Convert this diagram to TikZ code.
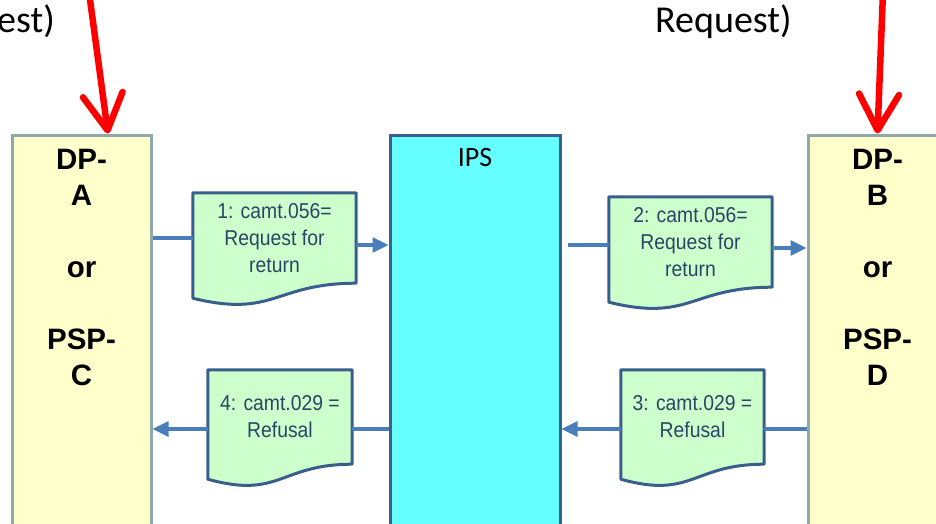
\documentclass[tikz,border=0pt]{standalone}
\usepackage{fontspec}
\setmainfont{Liberation Sans}
\newfontfamily\notefont{Carlito}
\newfontfamily\msgfont[FakeStretch=0.9]{Liberation Sans}
\usetikzlibrary{arrows.meta,positioning,calc,backgrounds}
\definecolor{partyfill}{HTML}{FFFFCC}
\definecolor{partyline}{HTML}{8FA8A8}
\definecolor{ipsfill}{HTML}{66FFFF}
\definecolor{ipsline}{HTML}{3C5F8F}
\definecolor{msgfill}{HTML}{CCFFCC}
\definecolor{msgline}{HTML}{3A5E8C}
\definecolor{msgtext}{HTML}{2B4466}
\definecolor{flowline}{HTML}{4A7EBB}
\tikzset{
  party/.style={draw=partyline, fill=partyfill, line width=3pt,
    minimum width=139pt, minimum height=410pt},
  partytext/.style={align=center, inner sep=0pt,
    font=\bfseries\fontsize{29.5}{36}\selectfont},
  ips/.style={draw=ipsline, fill=ipsfill, line width=3pt,
    minimum width=170pt, minimum height=410pt},
  msg/.style 2 args={align=center, inner sep=0pt, text=msgtext,
    minimum width=#1, minimum height=#2,
    font=\msgfont\fontsize{21.5}{27}\selectfont},
  msgdoc/.style={draw=msgline, fill=msgfill, line width=3pt, line join=round},
  flow/.style={draw=flowline, line width=3.2pt},
  flowarrow/.style={flow, -{Triangle[length=16pt,width=15pt]}},
  hint/.style={red, line width=6.5pt, -{Straight Barb[length=36pt,width=40pt,round]}},
  note/.style={inner sep=0pt, font=\notefont\fontsize{38}{44}\selectfont}
}
\begin{document}
\begin{tikzpicture}[x=1pt,y=-1pt]
\useasboundingbox (0,0) rectangle (936,523);
\clip (0,0) rectangle (936,523);
% parties and switch
\node[party] (lbox) at (81.5,340) {};
\node[party] (rbox) at (877.5,340) {};
\node[ips] (ips) at (475,340) {};
\node[partytext, below=15pt of lbox.north] (ltext) {DP-\\A\\[36pt]or\\[36pt]PSP-\\C};
\node[partytext, below=15pt of rbox.north] (rtext) {DP-\\B\\[36pt]or\\[36pt]PSP-\\D};
\node[inner sep=0pt, font=\notefont\fontsize{28}{32}\selectfont,
  below=15pt of ips.north] (ipslabel) {IPS};
% messages
\node[msg={163pt}{90pt}] (m1) at (274.5,238) {1: camt.056=\\Request for\\return};
\node[msg={163pt}{90pt}] (m2) at (690.5,242) {2: camt.056=\\Request for\\return};
\node[msg={143pt}{94pt}] (m3) at (692.5,417) {3: camt.029 =\\Refusal};
\node[msg={144pt}{94pt}] (m4) at (280,417) {4: camt.029 =\\Refusal};
\begin{scope}[on background layer]
  \foreach \m in {m1,m2,m3,m4}
    \filldraw[msgdoc] (\m.north west) -- (\m.north east) -- (\m.south east)
      .. controls (\m.south) and ($(\m.south)+(0,35)$) .. ($(\m.south west)+(0,15)$) -- cycle;
\end{scope}
% flows
\draw[flow] (lbox.east |- m1.west) -- (m1.west);
\coordinate (p1) at ([yshift=-7pt]m1.east);
\draw[flowarrow] (p1) -- (p1 -| ips.west);
\coordinate (p2) at ([yshift=-3pt]m2.west);
\draw[flow, shorten <=6pt] (p2 -| ips.east) -- (p2);
\coordinate (p3) at ([yshift=-6pt]m2.east);
\draw[flowarrow] (p3) -- (p3 -| rbox.west);
\coordinate (q3) at ([yshift=-12pt]m3.east);
\draw[flow] (q3 -| rbox.west) -- (q3);
\coordinate (q3w) at ([yshift=-12pt]m3.west);
\draw[flowarrow] (q3w) -- (q3w -| ips.east);
\coordinate (q4) at ([yshift=-12pt]m4.east);
\draw[flow] (q4 -| ips.west) -- (q4);
\coordinate (q4w) at ([yshift=-12pt]m4.west);
\draw[flowarrow] (q4w) -- (q4w -| lbox.east);
% red hints from above
\coordinate (srcA) at (89,-8);
\coordinate (srcB) at (883,-8);
\draw[hint] (srcA) -- ([xshift=26.5pt]lbox.north);
\draw[hint] (srcB) -- (rbox.north);
\node[note, anchor=base east] (noteA) at (55,32) {est)};
\node[note, anchor=base west] (noteB) at (655,32) {Request)};
\end{tikzpicture}
\end{document}
